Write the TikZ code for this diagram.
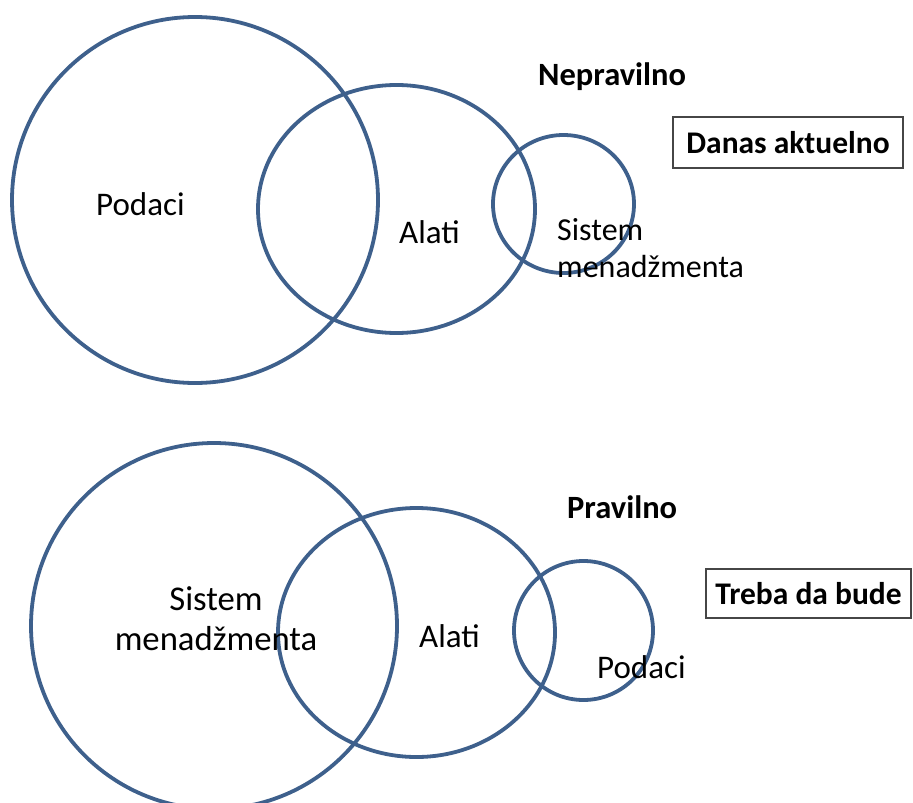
\documentclass[tikz,border=0pt]{standalone}
\usepackage{fontspec}
\setmainfont{Carlito}
\usetikzlibrary{positioning}
\definecolor{vennplava}{RGB}{62,96,140}
\definecolor{okvirsiva}{RGB}{70,70,70}
\tikzset{
	venn/.style={draw=vennplava, line width=3.8pt},
	oznaka/.style={font=\fontsize{33}{38.5}\selectfont, inner sep=0pt},
	naslov/.style={font=\fontsize{32.5}{38}\selectfont\bfseries, inner sep=0pt},
	okvir/.style={draw=okvirsiva, line width=1.4pt, font=\fontsize{31.5}{36}\selectfont\bfseries, inner sep=0pt},
}

\begin{document}
\begin{tikzpicture}[x=1pt, y=-1pt]
	\useasboundingbox (0,0) rectangle (913,803);
	% gornji dijagram: Nepravilno
	\draw[venn] (195,200) circle[radius=183];
	\draw[venn] (396.5,209) ellipse[x radius=138.5, y radius=124];
	\draw[venn] (563.5,204) ellipse[x radius=70.5, y radius=69];
	\node[oznaka, anchor=base west] (podaci1) at (96,215) {Podaci};
	\node[oznaka, anchor=base west] (alati1) at (399,243) {Alati};
	\node[oznaka, font=\fontsize{32}{37}\selectfont, anchor=base west, align=left] (sistem1) at (557,277) {Sistem\\menadžmenta};
	\node[naslov, anchor=base west] (nepravilno) at (538,85) {Nepravilno};
	\node[okvir, minimum width=230pt, minimum height=51pt] (danas) at (788,142.5) {Danas aktuelno};

	% donji dijagram: Pravilno
	\draw[venn] (214,626) circle[radius=183];
	\draw[venn] (416.5,632.5) ellipse[x radius=138.5, y radius=124.5];
	\draw[venn] (583.5,630.5) circle[radius=69.5];
	\node[oznaka, font=\fontsize{34.7}{40}\selectfont, anchor=base, align=center] (sistem2) at (216,650) {Sistem\\menadžmenta};
	\node[oznaka, anchor=base west] (alati2) at (419,647) {Alati};
	\node[oznaka, anchor=base west] (podaci2) at (597,678) {Podaci};
	\node[naslov, anchor=base west] (pravilno) at (567,518) {Pravilno};
	\node[okvir, minimum width=205pt, minimum height=49pt] (treba) at (808.5,593.5) {Treba da bude};
\end{tikzpicture}
\end{document}
